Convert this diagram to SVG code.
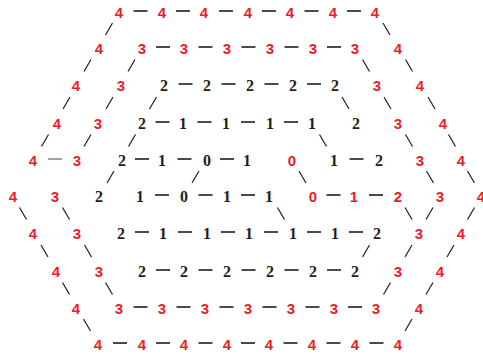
<svg xmlns="http://www.w3.org/2000/svg" width="483" height="356" viewBox="0 0 483 356">
<style>
.r{font-family:"Liberation Sans",Arial,sans-serif;font-weight:bold;font-size:15px;fill:#ec1c2a;text-anchor:middle}
.k{font-family:"Liberation Serif","Times New Roman",serif;font-weight:bold;font-size:16px;fill:#1e1e1e;text-anchor:middle}
.h{stroke:#1e1e1e;stroke-width:1.6}
.g{stroke:#8a8a8a;stroke-width:1.6}
.d{stroke:#1e1e1e;stroke-width:1.2}
</style>
<rect width="483" height="356" fill="#fff"/>
<g id="connectors">
<line class="h" x1="133.5" y1="11" x2="147.5" y2="11"/><line class="h" x1="176" y1="11" x2="190" y2="11"/><line class="h" x1="219" y1="11" x2="233" y2="11"/><line class="h" x1="262" y1="11" x2="276" y2="11"/><line class="h" x1="304.5" y1="11" x2="318.5" y2="11"/><line class="h" x1="347" y1="11" x2="361" y2="11"/>
<line class="h" x1="156" y1="47" x2="170" y2="47"/><line class="h" x1="198.5" y1="47" x2="212.5" y2="47"/><line class="h" x1="241.5" y1="47" x2="255.5" y2="47"/><line class="h" x1="284.5" y1="47" x2="298.5" y2="47"/><line class="h" x1="327" y1="47" x2="341" y2="47"/>
<line class="h" x1="178.5" y1="84" x2="192.5" y2="84"/><line class="h" x1="221.5" y1="84" x2="235.5" y2="84"/><line class="h" x1="264.5" y1="84" x2="278.5" y2="84"/><line class="h" x1="307" y1="84" x2="321" y2="84"/>
<line class="h" x1="155.5" y1="122" x2="169.5" y2="122"/><line class="h" x1="197.5" y1="122" x2="211.5" y2="122"/><line class="h" x1="241" y1="122" x2="255" y2="122"/><line class="h" x1="284" y1="122" x2="298" y2="122"/>
<line class="g" x1="48" y1="159" x2="62" y2="159"/><line class="h" x1="135" y1="159" x2="149" y2="159"/><line class="h" x1="177.5" y1="159" x2="191.5" y2="159"/><line class="h" x1="220" y1="159" x2="234" y2="159"/><line class="h" x1="349.5" y1="159" x2="363.5" y2="159"/>
<line class="h" x1="155" y1="195" x2="169" y2="195"/><line class="h" x1="198.5" y1="195" x2="212.5" y2="195"/><line class="h" x1="241" y1="195" x2="255" y2="195"/><line class="h" x1="326.5" y1="195" x2="340.5" y2="195"/><line class="h" x1="369" y1="195" x2="383" y2="195"/>
<line class="h" x1="135" y1="232" x2="149" y2="232"/><line class="h" x1="178" y1="232" x2="192" y2="232"/><line class="h" x1="221" y1="232" x2="235" y2="232"/><line class="h" x1="264" y1="232" x2="278" y2="232"/><line class="h" x1="307" y1="232" x2="321" y2="232"/><line class="h" x1="349" y1="232" x2="363" y2="232"/>
<line class="h" x1="156" y1="270" x2="170" y2="270"/><line class="h" x1="198.5" y1="270" x2="212.5" y2="270"/><line class="h" x1="241.5" y1="270" x2="255.5" y2="270"/><line class="h" x1="284.5" y1="270" x2="298.5" y2="270"/><line class="h" x1="327" y1="270" x2="341" y2="270"/>
<line class="h" x1="133.5" y1="307" x2="147.5" y2="307"/><line class="h" x1="176.5" y1="307" x2="190.5" y2="307"/><line class="h" x1="219.5" y1="307" x2="233.5" y2="307"/><line class="h" x1="262.5" y1="307" x2="276.5" y2="307"/><line class="h" x1="305.5" y1="307" x2="319.5" y2="307"/><line class="h" x1="348" y1="307" x2="362" y2="307"/>
<line class="h" x1="113" y1="343" x2="127" y2="343"/><line class="h" x1="156" y1="343" x2="170" y2="343"/><line class="h" x1="198.5" y1="343" x2="212.5" y2="343"/><line class="h" x1="241" y1="343" x2="255" y2="343"/><line class="h" x1="283.5" y1="343" x2="297.5" y2="343"/><line class="h" x1="326.5" y1="343" x2="340.5" y2="343"/><line class="h" x1="369.5" y1="343" x2="383.5" y2="343"/>
<line class="d" x1="112.5" y1="23" x2="105.5" y2="35"/><line class="d" x1="383" y1="23" x2="390" y2="35"/>
<line class="d" x1="91" y1="59.5" x2="84" y2="71.5"/><line class="d" x1="135" y1="59.5" x2="128" y2="71.5"/><line class="d" x1="362.5" y1="59.5" x2="369.5" y2="71.5"/><line class="d" x1="405.5" y1="59.5" x2="412.5" y2="71.5"/>
<line class="d" x1="70" y1="97" x2="63" y2="109"/><line class="d" x1="113" y1="97" x2="106" y2="109"/><line class="d" x1="156.5" y1="97" x2="149.5" y2="109"/><line class="d" x1="342" y1="97" x2="349" y2="109"/><line class="d" x1="384" y1="97" x2="391" y2="109"/><line class="d" x1="428" y1="97" x2="435" y2="109"/>
<line class="d" x1="48.5" y1="134.5" x2="41.5" y2="146.5"/><line class="d" x1="91" y1="134.5" x2="84" y2="146.5"/><line class="d" x1="135.5" y1="134.5" x2="128.5" y2="146.5"/><line class="d" x1="319.5" y1="134.5" x2="326.5" y2="146.5"/><line class="d" x1="405.5" y1="134.5" x2="412.5" y2="146.5"/><line class="d" x1="448.5" y1="134.5" x2="455.5" y2="146.5"/>
<line class="d" x1="114" y1="171" x2="107" y2="183"/><line class="d" x1="199" y1="171" x2="192" y2="183"/><line class="d" x1="299" y1="171" x2="306" y2="183"/><line class="d" x1="426.5" y1="171" x2="433.5" y2="183"/><line class="d" x1="467.5" y1="171" x2="474.5" y2="183"/>
<line class="d" x1="19.5" y1="207.5" x2="26.5" y2="219.5"/><line class="d" x1="62.5" y1="207.5" x2="69.5" y2="219.5"/><line class="d" x1="277.5" y1="207.5" x2="284.5" y2="219.5"/><line class="d" x1="405" y1="207.5" x2="412" y2="219.5"/><line class="d" x1="433" y1="207.5" x2="426" y2="219.5"/><line class="d" x1="474.5" y1="207.5" x2="467.5" y2="219.5"/>
<line class="d" x1="41" y1="245" x2="48" y2="257"/><line class="d" x1="84.5" y1="245" x2="91.5" y2="257"/><line class="d" x1="369.5" y1="245" x2="362.5" y2="257"/><line class="d" x1="412" y1="245" x2="405" y2="257"/><line class="d" x1="454" y1="245" x2="447" y2="257"/>
<line class="d" x1="62.5" y1="282.5" x2="69.5" y2="294.5"/><line class="d" x1="105.5" y1="282.5" x2="112.5" y2="294.5"/><line class="d" x1="390.5" y1="282.5" x2="383.5" y2="294.5"/><line class="d" x1="433" y1="282.5" x2="426" y2="294.5"/>
<line class="d" x1="83.5" y1="319" x2="90.5" y2="331"/><line class="d" x1="412" y1="319" x2="405" y2="331"/>
</g>
<g id="r0"><g id="n0_0"><text class="r" x="119" y="17.5">4</text></g><g id="n0_1"><text class="r" x="162" y="17.5">4</text></g><g id="n0_2"><text class="r" x="204" y="17.5">4</text></g><g id="n0_3"><text class="r" x="248" y="17.5">4</text></g><g id="n0_4"><text class="r" x="290" y="17.5">4</text></g><g id="n0_5"><text class="r" x="333" y="17.5">4</text></g><g id="n0_6"><text class="r" x="375" y="17.5">4</text></g></g>
<g id="r1"><g id="n1_0"><text class="r" x="99" y="53.5">4</text></g><g id="n1_1"><text class="r" x="142" y="53.5">3</text></g><g id="n1_2"><text class="r" x="184" y="53.5">3</text></g><g id="n1_3"><text class="r" x="227" y="53.5">3</text></g><g id="n1_4"><text class="r" x="270" y="53.5">3</text></g><g id="n1_5"><text class="r" x="313" y="53.5">3</text></g><g id="n1_6"><text class="r" x="355" y="53.5">3</text></g><g id="n1_7"><text class="r" x="398" y="53.5">4</text></g></g>
<g id="r2"><g id="n2_0"><text class="r" x="76" y="90.5">4</text></g><g id="n2_1"><text class="r" x="121" y="90.5">3</text></g><g id="n2_2"><text class="k" x="164" y="90.5">2</text></g><g id="n2_3"><text class="k" x="207" y="90.5">2</text></g><g id="n2_4"><text class="k" x="250" y="90.5">2</text></g><g id="n2_5"><text class="k" x="293" y="90.5">2</text></g><g id="n2_6"><text class="k" x="335" y="90.5">2</text></g><g id="n2_7"><text class="r" x="377" y="90.5">3</text></g><g id="n2_8"><text class="r" x="420" y="90.5">4</text></g></g>
<g id="r3"><g id="n3_0"><text class="r" x="57" y="128.5">4</text></g><g id="n3_1"><text class="r" x="98" y="128.5">3</text></g><g id="n3_2"><text class="k" x="142" y="128.5">2</text></g><g id="n3_3"><text class="k" x="183" y="128.5">1</text></g><g id="n3_4"><text class="k" x="226" y="128.5">1</text></g><g id="n3_5"><text class="k" x="270" y="128.5">1</text></g><g id="n3_6"><text class="k" x="312" y="128.5">1</text></g><g id="n3_7"><text class="k" x="356" y="128.5">2</text></g><g id="n3_8"><text class="r" x="398" y="128.5">3</text></g><g id="n3_9"><text class="r" x="443" y="128.5">4</text></g></g>
<g id="r4"><g id="n4_0"><text class="r" x="33" y="165.5">4</text></g><g id="n4_1"><text class="r" x="77" y="165.5">3</text></g><g id="n4_2"><text class="k" x="122" y="165.5">2</text></g><g id="n4_3"><text class="k" x="162" y="165.5">1</text></g><g id="n4_4"><text class="k" x="207" y="165.5">0</text></g><g id="n4_5"><text class="k" x="247" y="165.5">1</text></g><g id="n4_6"><text class="r" x="292" y="165.5">0</text></g><g id="n4_7"><text class="k" x="334" y="165.5">1</text></g><g id="n4_8"><text class="k" x="379" y="165.5">2</text></g><g id="n4_9"><text class="r" x="420" y="165.5">3</text></g><g id="n4_10"><text class="r" x="461" y="165.5">4</text></g></g>
<g id="r5"><g id="n5_0"><text class="r" x="13" y="201.5">4</text></g><g id="n5_1"><text class="r" x="55" y="201.5">3</text></g><g id="n5_2"><text class="k" x="99" y="201.5">2</text></g><g id="n5_3"><text class="k" x="140" y="201.5">1</text></g><g id="n5_4"><text class="k" x="184" y="201.5">0</text></g><g id="n5_5"><text class="k" x="227" y="201.5">1</text></g><g id="n5_6"><text class="k" x="269" y="201.5">1</text></g><g id="n5_7"><text class="r" x="313" y="201.5">0</text></g><g id="n5_8"><text class="r" x="354" y="201.5">1</text></g><g id="n5_9"><text class="r" x="398" y="201.5">2</text></g><g id="n5_10"><text class="r" x="440" y="201.5">3</text></g><g id="n5_11"><text class="r" x="481" y="201.5">4</text></g></g>
<g id="r6"><g id="n6_0"><text class="r" x="33" y="238.5">4</text></g><g id="n6_1"><text class="r" x="77" y="238.5">3</text></g><g id="n6_2"><text class="k" x="121" y="238.5">2</text></g><g id="n6_3"><text class="k" x="163" y="238.5">1</text></g><g id="n6_4"><text class="k" x="207" y="238.5">1</text></g><g id="n6_5"><text class="k" x="249" y="238.5">1</text></g><g id="n6_6"><text class="k" x="293" y="238.5">1</text></g><g id="n6_7"><text class="k" x="335" y="238.5">1</text></g><g id="n6_8"><text class="k" x="377" y="238.5">2</text></g><g id="n6_9"><text class="r" x="419" y="238.5">3</text></g><g id="n6_10"><text class="r" x="461" y="238.5">4</text></g></g>
<g id="r7"><g id="n7_0"><text class="r" x="56" y="276.5">4</text></g><g id="n7_1"><text class="r" x="99" y="276.5">3</text></g><g id="n7_2"><text class="k" x="142" y="276.5">2</text></g><g id="n7_3"><text class="k" x="184" y="276.5">2</text></g><g id="n7_4"><text class="k" x="227" y="276.5">2</text></g><g id="n7_5"><text class="k" x="270" y="276.5">2</text></g><g id="n7_6"><text class="k" x="313" y="276.5">2</text></g><g id="n7_7"><text class="k" x="355" y="276.5">2</text></g><g id="n7_8"><text class="r" x="398" y="276.5">3</text></g><g id="n7_9"><text class="r" x="440" y="276.5">4</text></g></g>
<g id="r8"><g id="n8_0"><text class="r" x="76" y="313.5">4</text></g><g id="n8_1"><text class="r" x="119" y="313.5">3</text></g><g id="n8_2"><text class="r" x="162" y="313.5">3</text></g><g id="n8_3"><text class="r" x="205" y="313.5">3</text></g><g id="n8_4"><text class="r" x="248" y="313.5">3</text></g><g id="n8_5"><text class="r" x="291" y="313.5">3</text></g><g id="n8_6"><text class="r" x="334" y="313.5">3</text></g><g id="n8_7"><text class="r" x="376" y="313.5">3</text></g><g id="n8_8"><text class="r" x="419" y="313.5">4</text></g></g>
<g id="r9"><g id="n9_0"><text class="r" x="98" y="349.5">4</text></g><g id="n9_1"><text class="r" x="142" y="349.5">4</text></g><g id="n9_2"><text class="r" x="184" y="349.5">4</text></g><g id="n9_3"><text class="r" x="227" y="349.5">4</text></g><g id="n9_4"><text class="r" x="269" y="349.5">4</text></g><g id="n9_5"><text class="r" x="312" y="349.5">4</text></g><g id="n9_6"><text class="r" x="355" y="349.5">4</text></g><g id="n9_7"><text class="r" x="398" y="349.5">4</text></g></g>
</svg>
